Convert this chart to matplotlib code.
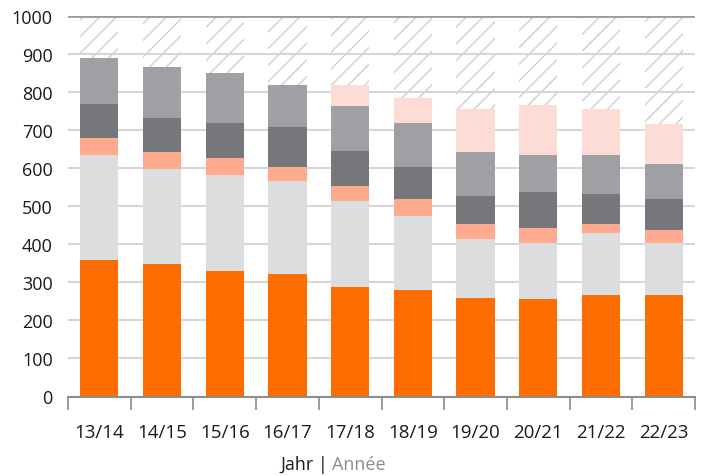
import matplotlib.pyplot as plt
import numpy as np

plt.rcParams['font.family'] = ['Open Sans', 'DejaVu Sans']
plt.rcParams['hatch.linewidth'] = 1.0

# --- Data ---
years = ["13/14", "14/15", "15/16", "16/17", "17/18",
         "18/19", "19/20", "20/21", "21/22", "22/23"]
s_orange = [360, 348, 329, 321, 289, 279, 258, 255, 266, 266]
s_light = [276, 249, 252, 246, 226, 196, 156, 149, 164, 138]
s_salmon = [44, 45, 45, 37, 37, 45, 40, 39, 24, 34]
s_dark = [89, 90, 93, 104, 92, 82, 74, 95, 79, 82]
s_mid = [121, 135, 132, 111, 120, 117, 114, 98, 103, 92]
s_pink = [0, 0, 0, 0, 55, 66, 114, 131, 120, 104]
y_ticks = [0, 100, 200, 300, 400, 500, 600, 700, 800, 900, 1000]

series = [s_orange, s_light, s_salmon, s_dark, s_mid, s_pink]
colors = ["#ff6c00", "#dcddde", "#ffa98e", "#75777b", "#9fa0a4", "#fedcd6"]

# --- Figure ---
fig = plt.figure(figsize=(7.03, 4.77), dpi=100)
ax = fig.add_axes([68 / 703, 79.5 / 477, 627 / 703, 380.5 / 477])

x = np.arange(len(years))
width = 0.61

# hatched background columns
ax.bar(x, [1000] * len(x), width, color="white", edgecolor="#cfcfcf",
       linewidth=0, hatch="//", zorder=0.5)

# gridlines
for v in y_ticks[1:-1]:
    ax.axhline(v, color="#d6d6d6", linewidth=1.5, zorder=1)
ax.axhline(1000, color="#9a9a9a", linewidth=2, zorder=1)

bottom = np.zeros(len(x))
for vals, c in zip(series, colors):
    ax.bar(x, vals, width, bottom=bottom, color=c, linewidth=0, zorder=2)
    bottom += np.array(vals)

ax.set_xlim(-0.5, len(x) - 0.5)
ax.set_ylim(0, 1000)

for s in ["top", "right", "left"]:
    ax.spines[s].set_visible(False)
ax.spines["bottom"].set_color("#8c8c8c")
ax.spines["bottom"].set_linewidth(1.5)
ax.spines["bottom"].set_zorder(3)

ax.set_yticks(y_ticks)
ax.tick_params(axis="y", length=0, pad=11, labelsize=13, colors="#1a1a1a")

ax.set_xticks(x)
ax.set_xticklabels(years)
ax.set_xticks(np.arange(len(x) + 1) - 0.5, minor=True)
ax.tick_params(axis="x", which="major", length=0, pad=19, labelsize=13.5,
               colors="#1a1a1a")
ax.tick_params(axis="x", which="minor", length=9, width=1.2,
               color="#8c8c8c", direction="out")

# axis title "Jahr | Année"
fig.text(0.4666, 0.006, "Jahr |", ha="right", va="bottom", fontsize=13,
         color="#1a1a1a")
fig.text(0.4717, 0.006, "Année", ha="left", va="bottom", fontsize=13,
         color="#8c8c8c")

fig.savefig("out.png", dpi=100)
